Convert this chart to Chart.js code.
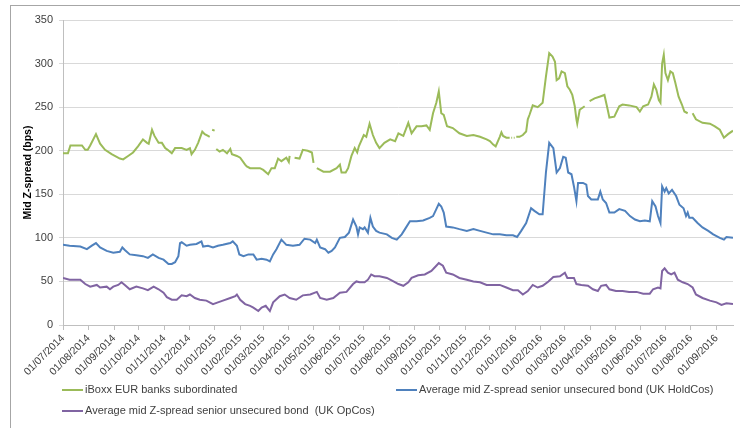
<!DOCTYPE html>
<html>
	<head>
		<title>Mid Z-spread</title>
		<script src="https://cdn.jsdelivr.net/npm/chart.js@4.4.1/dist/chart.umd.min.js"></script>
		<style>
			html, body { margin: 0; padding: 0; background: #fff; }
			.chart-container { width: 740px; height: 428px; }
		</style>
	</head>
	<body>
		<div class="chart-container">
			<canvas id="spreadChart"></canvas>
		</div>
		<script>
			// x values are days counted from 01/07/2014
			const startDate = Date.UTC(2014, 6, 1);

			const monthLabels = [
				"01/07/2014", "01/08/2014", "01/09/2014", "01/10/2014", "01/11/2014", "01/12/2014",
				"01/01/2015", "01/02/2015", "01/03/2015", "01/04/2015", "01/05/2015", "01/06/2015",
				"01/07/2015", "01/08/2015", "01/09/2015", "01/10/2015", "01/11/2015", "01/12/2015",
				"01/01/2016", "01/02/2016", "01/03/2016", "01/04/2016", "01/05/2016", "01/06/2016",
				"01/07/2016", "01/08/2016", "01/09/2016",
			];

			const seriesLabels = [
				"iBoxx EUR banks subordinated",
				"Average mid Z-spread senior unsecured bond (UK HoldCos)",
				"Average mid Z-spread senior unsecured bond  (UK OpCos)",
			];

			// iBoxx EUR banks subordinated (null = no data)
			const iboxxDays = [
				0, 6, 9, 23, 27, 30, 33, 40, 45, 51, 59, 69, 73, 79, 85, 91, 97, 102, 104, 108,
				111, 116, 120, 124, 127, 132, 136, 144, 150, 154, 156, 160, 164, 169, 172, 176, 178, 180, 181, 184,
				185, 186, 190, 194, 199, 203, 205, 211, 215, 221, 223, 227, 231, 239, 243, 249, 253, 257, 261, 265,
				271, 274, 275, 277, 281, 287, 291, 297, 302, 304, 306, 308, 312, 316, 324, 332, 336, 338, 343, 346,
				350, 354, 357, 359, 365, 368, 372, 376, 380, 384, 390, 397, 403, 407, 413, 419, 423, 429, 435, 441,
				445, 449, 453, 456, 459, 462, 466, 473, 481, 490, 498, 506, 514, 518, 522, 525, 530, 532, 534, 538,
				542, 543, 544, 545, 546, 547, 548, 549, 550, 554, 558, 562, 564, 566, 570, 576, 582, 586, 590, 594,
				597, 599, 602, 605, 609, 612, 615, 618, 621, 623, 624, 627, 633, 635, 639, 645, 651, 657, 661, 663,
				669, 675, 679, 687, 696, 700, 704, 710, 714, 717, 720, 723, 725, 727, 729, 731, 734, 737, 740, 743,
				747, 751, 754, 758, 760, 764, 768, 776, 785, 791, 797, 802, 807, 813,
			];
			const iboxxValues = [
				197, 197, 206, 206, 201, 201, 206, 219, 208, 201, 196, 191, 190, 194, 198, 205, 213, 209, 208, 224,
				217, 209, 209, 203, 201, 197, 203, 203, 201, 203, 196, 201, 209, 222, 219, 217, 216, null, 224, 223,
				null, 202, 199, 201, 197, 202, 196, 194, 192, 184, 182, 180, 180, 180, 178, 173, 180, 180, 191, 188,
				192, 187, 194, null, 192, 191, 201, 200, 198, 186, null, 180, 178, 176, 176, 180, 184, 175, 175, 180,
				194, 203, 198, 205, 218, 216, 231, 218, 209, 203, 209, 213, 211, 220, 217, 232, 220, 228, 228, 229,
				224, 243, 255, 268, 243, 241, 228, 226, 220, 217, 218, 216, 213, 211, 207, 205, 216, 221, 217, 215,
				215, null, 215, 215, null, 215, 215, null, 216, 216, 218, 222, 236, 241, 252, 250, 255, 285, 312, 308,
				302, 281, 283, 291, 289, 274, 270, 264, 251, 236, 231, 247, 251, null, 257, 260, 262, 264, 247, 238,
				239, 251, 253, 252, 250, 245, 251, 253, 262, 276, 270, 258, 255, 300, 310, 289, 281, 291, 289, 278,
				262, 253, 245, 243, null, 243, 236, 232, 231, 228, 224, 215, 219, 223,
			];

			// Average mid Z-spread senior unsecured bond (UK HoldCos)
			const holdcoDays = [
				0, 8, 21, 29, 35, 40, 45, 53, 61, 69, 72, 75, 81, 89, 97, 103, 109, 116, 122, 128,
				132, 136, 140, 142, 144, 150, 154, 162, 168, 170, 176, 182, 188, 194, 203, 206, 211, 214, 219, 225,
				231, 235, 241, 247, 251, 255, 259, 265, 271, 279, 287, 293, 300, 306, 308, 312, 318, 322, 326, 330,
				336, 342, 347, 352, 356, 358, 360, 364, 366, 370, 373, 376, 380, 384, 393, 399, 405, 411, 415, 421,
				429, 437, 445, 449, 453, 456, 459, 462, 465, 473, 481, 490, 498, 506, 514, 522, 530, 538, 546, 551,
				556, 562, 568, 572, 578, 582, 586, 590, 595, 599, 603, 607, 610, 613, 617, 620, 623, 625, 631, 635,
				637, 641, 649, 652, 655, 659, 663, 669, 675, 682, 688, 694, 700, 706, 712, 715, 719, 722, 725, 727,
				730, 732, 735, 739, 744, 748, 753, 756, 758, 760, 764, 770, 776, 783, 789, 797, 802, 805, 813,
			];
			const holdcoValues = [
				92, 91, 90, 87, 91, 94, 89, 85, 83, 84, 89, 86, 81, 80, 79, 77, 81, 77, 75, 70,
				70, 72, 79, 94, 95, 91, 92, 93, 96, 90, 91, 89, 91, 92, 94, 96, 91, 81, 79, 81,
				81, 75, 76, 75, 73, 81, 87, 98, 92, 91, 92, 99, 98, 94, 98, 89, 87, 83, 85, 89,
				100, 101, 106, 121, 113, 104, 112, 110, 112, 106, 123, 113, 108, 106, 104, 100, 98, 104, 110, 119,
				119, 120, 123, 125, 133, 139, 136, 129, 113, 112, 110, 108, 110, 108, 106, 104, 104, 103, 103, 101,
				108, 117, 134, 131, 127, 127, 175, 209, 203, 175, 180, 193, 192, 175, 173, 159, 142, 163, 163, 161,
				148, 144, 144, 153, 144, 140, 129, 129, 133, 131, 125, 121, 119, 120, 119, 142, 136, 125, 117, 159,
				153, 157, 151, 155, 148, 138, 134, 125, 129, 123, 123, 117, 112, 108, 104, 100, 98, 101, 100,
			];

			// Average mid Z-spread senior unsecured bond (UK OpCos)
			const opcoDays = [
				0, 8, 21, 27, 33, 41, 45, 53, 57, 61, 67, 71, 75, 81, 89, 97, 103, 110, 116, 122,
				126, 132, 138, 144, 150, 154, 160, 166, 174, 182, 188, 194, 203, 209, 211, 215, 221, 227, 231, 237,
				241, 246, 251, 255, 263, 269, 275, 283, 291, 300, 308, 312, 320, 328, 336, 344, 352, 356, 360, 366,
				370, 374, 378, 384, 393, 401, 407, 413, 419, 423, 431, 439, 447, 453, 456, 461, 465, 473, 481, 490,
				498, 506, 514, 522, 530, 538, 546, 552, 558, 564, 570, 576, 582, 589, 595, 603, 609, 612, 615, 620,
				623, 629, 637, 643, 649, 653, 659, 663, 671, 679, 687, 696, 704, 712, 716, 722, 725, 727, 730, 734,
				738, 742, 746, 752, 758, 764, 768, 776, 785, 793, 799, 805, 813,
			];
			const opcoValues = [
				54, 52, 52, 47, 44, 46, 43, 44, 41, 44, 46, 49, 46, 41, 44, 42, 40, 44, 41, 37,
				32, 29, 29, 34, 33, 35, 31, 29, 28, 24, 26, 28, 31, 33, 35, 29, 24, 22, 20, 16,
				20, 22, 16, 26, 33, 35, 31, 29, 34, 35, 38, 31, 29, 31, 37, 38, 47, 50, 49, 49,
				52, 58, 56, 56, 54, 50, 47, 45, 49, 54, 57, 58, 62, 68, 71, 68, 60, 58, 54, 52,
				50, 49, 46, 46, 46, 43, 40, 40, 35, 39, 46, 43, 45, 50, 55, 56, 60, 54, 54, 54,
				47, 46, 45, 41, 39, 45, 46, 41, 39, 39, 38, 38, 36, 36, 41, 43, 42, 62, 65, 60,
				58, 60, 52, 49, 47, 43, 35, 31, 28, 26, 23, 25, 24,
			];

			const colors = ["#9bbb59", "#4f81bd", "#8064a2"];
			const fontFamily = "'Liberation Sans', Arial, sans-serif";

			function toPoints(days, values) {
				return days.map((d, i) => ({ x: d, y: values[i] }));
			}

			function labelToDay(label) {
				const [d, m, y] = label.split("/").map(Number);
				return Math.round((Date.UTC(y, m - 1, d) - startDate) / 86400000);
			}
			const monthDays = monthLabels.map(labelToDay);

			// white background, outer frame and the legend underneath the axis
			const frameAndLegend = {
				id: "frameAndLegend",
				beforeDraw(chart) {
					const c = chart.ctx;
					c.save();
					c.fillStyle = "#fff";
					c.fillRect(0, 0, chart.width, chart.height);
					c.strokeStyle = "#a6a6a6";
					c.lineWidth = 1;
					c.strokeRect(10.5, 5.5, 900, 900);
					c.restore();
				},
				afterDraw(chart) {
					const c = chart.ctx;
					const items = [
						{ x: 62, y: 390 },
						{ x: 396, y: 390 },
						{ x: 62, y: 411 },
					];
					c.save();
					c.font = "11px " + fontFamily;
					c.textBaseline = "middle";
					c.fillStyle = "#404040";
					chart.data.datasets.forEach((ds, i) => {
						const it = items[i];
						c.strokeStyle = ds.borderColor;
						c.lineWidth = 2;
						c.beginPath();
						c.moveTo(it.x, it.y);
						c.lineTo(it.x + 21, it.y);
						c.stroke();
						c.fillText(ds.label, it.x + 23, it.y);
					});
					c.restore();
				},
			};

			const lineStyle = {
				borderWidth: 2,
				pointRadius: 0,
				pointHoverRadius: 0,
				tension: 0,
				fill: false,
				spanGaps: false,
			};

			const data = {
				datasets: [
					{ label: seriesLabels[0], data: toPoints(iboxxDays, iboxxValues), borderColor: colors[0], ...lineStyle },
					{ label: seriesLabels[1], data: toPoints(holdcoDays, holdcoValues), borderColor: colors[1], ...lineStyle },
					{ label: seriesLabels[2], data: toPoints(opcoDays, opcoValues), borderColor: colors[2], ...lineStyle },
				],
			};

			const config = {
				type: "line",
				data: data,
				plugins: [frameAndLegend],
				options: {
					responsive: true,
					maintainAspectRatio: false,
					animation: false,
					layout: { padding: { left: 0, top: 20, right: 7, bottom: 0 } },
					plugins: {
						legend: { display: false },
						tooltip: { enabled: false },
					},
					scales: {
						x: {
							type: "linear",
							min: 0,
							max: 813,
							afterBuildTicks(scale) {
								scale.ticks = monthDays.map((v) => ({ value: v }));
							},
							afterFit(scale) {
								scale.height = 103;
							},
							ticks: {
								autoSkip: false,
								maxRotation: 45,
								minRotation: 45,
								padding: 2,
								color: "#404040",
								font: { family: fontFamily, size: 10.5 },
								callback: (value, index) => monthLabels[index],
							},
							grid: {
								drawOnChartArea: false,
								drawTicks: true,
								tickLength: 5,
								color: "#bfbfbf",
							},
							border: { color: "#bfbfbf" },
						},
						y: {
							min: 0,
							max: 350,
							afterFit(scale) {
								scale.width = 63;
							},
							ticks: {
								stepSize: 50,
								padding: 6,
								color: "#404040",
								font: { family: fontFamily, size: 11 },
							},
							grid: {
								color: "#d9d9d9",
								tickLength: 4,
							},
							border: { color: "#bfbfbf" },
							title: {
								display: true,
								text: "Mid Z-spread (bps)",
								color: "#000",
								font: { family: fontFamily, size: 10.5, weight: "bold" },
								padding: { top: 22, bottom: 0 },
							},
						},
					},
				},
			};

			new Chart(document.getElementById("spreadChart"), config);
		</script>
	</body>
</html>
